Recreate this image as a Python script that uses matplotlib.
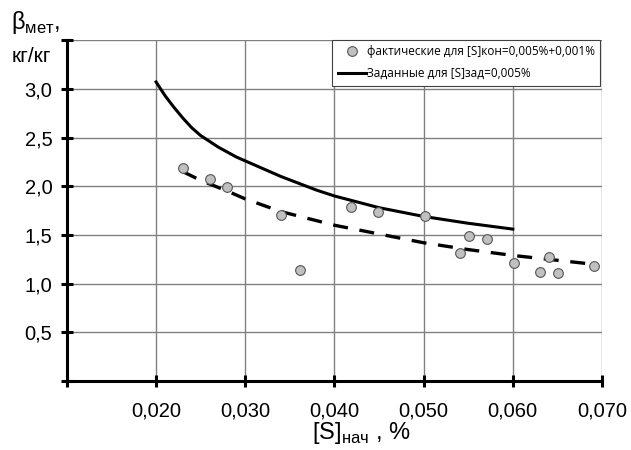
import matplotlib
matplotlib.use('Agg')
import matplotlib.pyplot as plt
from matplotlib.lines import Line2D

# Measured points, [S]кон = 0,005%+0,001%
s_fact = [0.0230, 0.0260, 0.0280, 0.0340, 0.0361, 0.0419, 0.0449, 0.0501,
          0.0541, 0.0551, 0.0571, 0.0601, 0.0631, 0.0641, 0.0651, 0.0691]
beta_fact = [2.19, 2.07, 1.99, 1.70, 1.14, 1.79, 1.74, 1.69,
             1.32, 1.49, 1.46, 1.21, 1.12, 1.27, 1.11, 1.18]

# Target curve, [S]зад = 0,005%
s_target = [0.020, 0.021, 0.022, 0.023, 0.024, 0.025, 0.026, 0.027, 0.028,
            0.029, 0.030, 0.032, 0.034, 0.036, 0.038, 0.040, 0.045, 0.050,
            0.055, 0.060]
beta_target = [3.07, 2.93, 2.81, 2.70, 2.60, 2.52, 2.46, 2.40, 2.35,
               2.30, 2.26, 2.18, 2.10, 2.03, 1.96, 1.90, 1.78, 1.69,
               1.62, 1.56]

# Trend of measured points (dashed)
s_trend = [0.023, 0.025, 0.028, 0.030, 0.034, 0.037, 0.040, 0.045, 0.050,
           0.055, 0.060, 0.065, 0.069]
beta_trend = [2.15, 2.06, 1.95, 1.87, 1.74, 1.67, 1.60, 1.51, 1.42,
              1.35, 1.29, 1.24, 1.20]

x_ticks = [0.020, 0.030, 0.040, 0.050, 0.060, 0.070]
y_ticks = [0.5, 1.0, 1.5, 2.0, 2.5, 3.0]

plt.rcParams['font.family'] = ['Liberation Sans', 'DejaVu Sans']

fig = plt.figure(figsize=(6.31, 4.5), dpi=100)
ax = fig.add_axes([0.106, 0.153, 0.848, 0.758])

ax.set_xlim(0.010, 0.070)
ax.set_ylim(0, 3.5)

# grid lines (also act as top/right border)
for xv in [0.020, 0.030, 0.040, 0.050, 0.060, 0.070]:
    ax.axvline(xv, color='#808080', lw=1.0, zorder=1)
for yv in [0.5, 1.0, 1.5, 2.0, 2.5, 3.0, 3.5]:
    ax.axhline(yv, color='#808080', lw=1.0, zorder=1)

ax.plot(s_trend, beta_trend, color='black', lw=2.4, ls=(0, (4.5, 3.5)),
        zorder=3)
ax.plot(s_target, beta_target, color='black', lw=2.2, zorder=3,
        solid_joinstyle='round')
ax.plot(s_fact, beta_fact, ls='none', marker='o', ms=7,
        mfc='#c0c0c0', mec='#555555', mew=0.8, zorder=4)

for side in ['top', 'right']:
    ax.spines[side].set_visible(False)
for side in ['left', 'bottom']:
    ax.spines[side].set_linewidth(2.2)

ax.set_xticks([0.010] + x_ticks)
ax.set_xticklabels([''] + [('%.3f' % v).replace('.', ',') for v in x_ticks])
ax.set_yticks([0.0] + y_ticks + [3.5])
ax.set_yticklabels([''] + [('%.1f' % v).replace('.', ',') for v in y_ticks] + [''])
ax.tick_params(direction='inout', length=9, width=2.2, labelsize=14.5,
               pad=6)
ax.tick_params(axis='x', pad=10)

fig.text(0.572, 0.008, '[S]$_{\\mathregular{нач}}$ , %', ha='center',
         va='bottom', fontsize=17)

fig.text(0.018, 0.935, 'β$_{\\mathregular{мет}}$,', fontsize=17)
fig.text(0.018, 0.862, 'кг/кг', fontsize=15)

handles = [Line2D([], [], ls='none', marker='o', ms=7, mfc='#c0c0c0',
                  mec='#555555', mew=0.8),
           Line2D([], [], color='black', lw=2.2)]
labels = ['фактические для [S]кон=0,005%+0,001%',
          'Заданные для [S]зад=0,005%']
leg = ax.legend(handles, labels, loc='upper right',
                bbox_to_anchor=(0.997, 1.0), frameon=True, fancybox=False,
                edgecolor='#404040', framealpha=1,
                prop={'family': ['Open Sans', 'DejaVu Sans'], 'size': 8.5},
                handlelength=2.4, handletextpad=0.1, borderpad=0.45,
                labelspacing=0.75, borderaxespad=0)
leg.get_frame().set_linewidth(0.8)
leg.set_zorder(5)

fig.savefig('out.png', dpi=100)
